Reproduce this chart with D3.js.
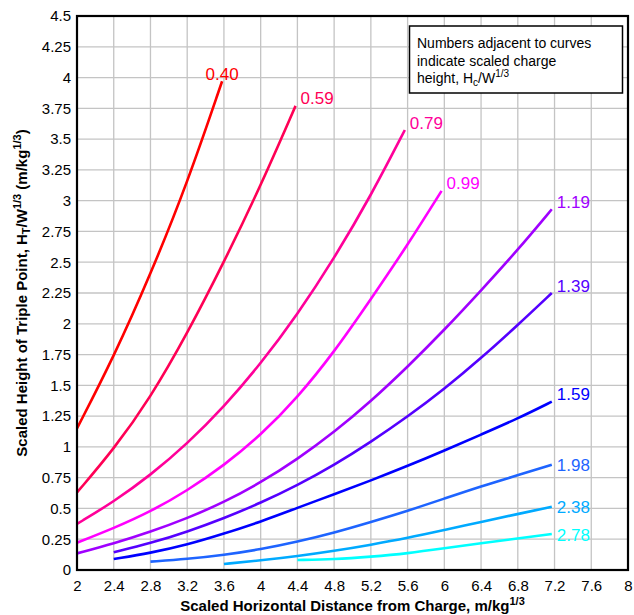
<!DOCTYPE html>
<html>
<head>
<meta charset="utf-8">
<script src="https://cdn.jsdelivr.net/npm/d3@7"></script>
<style>
  html, body { margin: 0; padding: 0; background: #fff; }
  svg { display: block; font-family: Arial, "Liberation Sans", sans-serif; }
</style>
</head>
<body>
<svg id="chart" width="634" height="615"></svg>
<script>
// ---------------- data ----------------
const chargeHeights = ["0.40", "0.59", "0.79", "0.99", "1.19", "1.39", "1.59", "1.98", "2.38", "2.78"];
const seriesColors = ["#FF0000", "#FF0055", "#FF0099", "#FF00FF", "#A000FF", "#5500FF", "#0000FF", "#1E64FF", "#00AAFF", "#00FFFF"];

const s040 = [[2,1.15],[2.4,1.73],[2.8,2.40],[3.2,3.14],[3.58,3.97]];
const s059 = [[2,0.63],[2.4,0.98],[2.8,1.40],[3.2,1.92],[3.6,2.50],[4.0,3.12],[4.38,3.77]];
const s079 = [[2,0.374],[2.4,0.555],[2.8,0.77],[3.2,1.025],[3.6,1.325],[4.0,1.675],[4.4,2.075],[4.8,2.53],[5.2,3.04],[5.57,3.574]];
const s099 = [[2,0.222],[2.4,0.339],[2.8,0.474],[3.2,0.644],[3.6,0.849],[4.0,1.094],[4.4,1.40],[4.8,1.77],[5.2,2.20],[5.6,2.64],[5.97,3.08]];
const s119 = [[2,0.135],[2.4,0.215],[2.8,0.31],[3.2,0.42],[3.6,0.55],[4.0,0.71],[4.4,0.90],[4.8,1.12],[5.2,1.37],[5.6,1.65],[6.0,1.95],[6.4,2.27],[6.8,2.60],[7.17,2.93]];
const s139 = [[2.4,0.144],[2.8,0.217],[3.2,0.311],[3.6,0.42],[4.0,0.545],[4.4,0.688],[4.8,0.852],[5.2,1.04],[5.6,1.245],[6.0,1.47],[6.4,1.72],[6.8,1.99],[7.17,2.25]];
const s159 = [[2.4,0.089],[2.8,0.138],[3.2,0.205],[3.6,0.295],[4.0,0.392],[4.4,0.505],[4.8,0.615],[5.2,0.727],[5.6,0.845],[6.0,0.97],[6.4,1.10],[6.8,1.23],[7.17,1.367]];
const s198 = [[2.8,0.068],[3.2,0.089],[3.6,0.122],[4.0,0.168],[4.4,0.23],[4.8,0.303],[5.2,0.39],[5.6,0.48],[6.0,0.58],[6.4,0.68],[6.8,0.77],[7.17,0.855]];
const s238 = [[3.6,0.049],[4.0,0.078],[4.4,0.113],[4.8,0.155],[5.2,0.205],[5.6,0.26],[6.0,0.325],[6.4,0.39],[6.8,0.455],[7.17,0.514]];
const s278 = [[4.4,0.081],[4.8,0.087],[5.2,0.108],[5.6,0.135],[6.0,0.176],[6.4,0.217],[6.8,0.257],[7.17,0.292]];
const allSeries = [s040, s059, s079, s099, s119, s139, s159, s198, s238, s278];

const xTicks = [2, 2.4, 2.8, 3.2, 3.6, 4, 4.4, 4.8, 5.2, 5.6, 6, 6.4, 6.8, 7.2, 7.6, 8];
const xTickLabels = ["2","2.4","2.8","3.2","3.6","4","4.4","4.8","5.2","5.6","6","6.4","6.8","7.2","7.6","8"];
const yTicks = [0,0.25,0.5,0.75,1,1.25,1.5,1.75,2,2.25,2.5,2.75,3,3.25,3.5,3.75,4,4.25,4.5];
const yTickLabels = ["0","0.25","0.5","0.75","1","1.25","1.5","1.75","2","2.25","2.5","2.75","3","3.25","3.5","3.75","4","4.25","4.5"];

// ---------------- layout ----------------
const svg = d3.select("#chart");
const L = 77, R = 628, T = 16, B = 570;
const x = d3.scaleLinear().domain([2, 8]).range([L, R]);
const y = d3.scaleLinear().domain([0, 4.5]).range([B, T]);

// grid
const grid = svg.append("g");
grid.selectAll("line.v").data(xTicks).join("line")
  .attr("x1", d => x(d)).attr("x2", d => x(d)).attr("y1", T).attr("y2", B)
  .attr("stroke", "#C4C4C4").attr("stroke-width", 1.3);
grid.selectAll("line.h").data(yTicks).join("line")
  .attr("x1", L).attr("x2", R).attr("y1", d => y(d)).attr("y2", d => y(d))
  .attr("stroke", "#C4C4C4").attr("stroke-width", 1.3);

// axes (labels only, no ticks)
const xAxis = d3.axisBottom(x).tickValues(xTicks).tickSize(0).tickPadding(10)
  .tickFormat((d, i) => xTickLabels[i]);
const gx = svg.append("g").attr("transform", `translate(0,${B})`).call(xAxis);
gx.select(".domain").remove();
gx.selectAll("text").attr("font-size", 15).attr("fill", "#000").attr("font-family", "Arial, 'Liberation Sans', sans-serif");

const yAxis = d3.axisLeft(y).tickValues(yTicks).tickSize(0).tickPadding(6)
  .tickFormat((d, i) => yTickLabels[i]);
const gy = svg.append("g").attr("transform", `translate(${L},0)`).call(yAxis);
gy.select(".domain").remove();
gy.selectAll("text").attr("font-size", 15).attr("fill", "#000").attr("font-family", "Arial, 'Liberation Sans', sans-serif");

// curves
const line = d3.line().x(d => x(d[0])).y(d => y(d[1])).curve(d3.curveBasis);
svg.append("g").selectAll("path").data(allSeries).join("path")
  .attr("d", line)
  .attr("fill", "none")
  .attr("stroke", (d, i) => seriesColors[i])
  .attr("stroke-width", 2.6)
  .attr("stroke-linecap", "butt");

// curve labels
const labelMode = ["above","right","right","right","right","right","right","mid","mid","mid"];
svg.append("g").selectAll("text").data(allSeries).join("text")
  .attr("x", (d, i) => {
    const e = d[d.length - 1];
    return labelMode[i] === "above" ? x(e[0]) : x(e[0]) + 5;
  })
  .attr("y", (d, i) => {
    const e = d[d.length - 1];
    if (labelMode[i] === "mid") return y(e[1]) + 6.5;
    return y(e[1]) - 1.5;
  })
  .attr("text-anchor", (d, i) => labelMode[i] === "above" ? "middle" : "start")
  .attr("font-size", 17)
  .attr("fill", (d, i) => seriesColors[i])
  .text((d, i) => chargeHeights[i]);

// plot border
svg.append("rect").attr("x", L).attr("y", T).attr("width", R - L).attr("height", B - T)
  .attr("fill", "none").attr("stroke", "#000").attr("stroke-width", 2.2);

// note box
const note = svg.append("g");
note.append("rect").attr("x", 409.5).attr("y", 26).attr("width", 213).attr("height", 67)
  .attr("fill", "#fff").attr("stroke", "#000").attr("stroke-width", 1.5);
const nt = note.append("text").attr("font-size", 14).attr("fill", "#000");
nt.append("tspan").attr("x", 417).attr("y", 48).text("Numbers adjacent to curves");
nt.append("tspan").attr("x", 417).attr("y", 65.5).text("indicate scaled charge");
const l3 = note.append("text").attr("font-size", 14).attr("fill", "#000").attr("x", 417).attr("y", 83);
l3.append("tspan").text("height, H");
l3.append("tspan").attr("font-size", 10).attr("dy", 3).text("c");
l3.append("tspan").attr("dy", -3).text("/W");
l3.append("tspan").attr("font-size", 10).attr("dy", -6).text("1/3");

// x title
const xt = svg.append("text").attr("x", (L + R) / 2).attr("y", 611).attr("text-anchor", "middle")
  .attr("font-size", 15).attr("font-weight", "bold").attr("fill", "#000");
xt.append("tspan").text("Scaled Horizontal Distance from Charge, m/kg");
xt.append("tspan").attr("font-size", 11).attr("dy", -6).text("1/3");

// y title
const yt = svg.append("text").attr("transform", `translate(27,${(T + B) / 2}) rotate(-90)`)
  .attr("text-anchor", "middle").attr("font-size", 15).attr("font-weight", "bold").attr("fill", "#000");
yt.append("tspan").text("Scaled Height of Triple Point, H");
yt.append("tspan").attr("font-size", 11).attr("dy", 3).text("T");
yt.append("tspan").attr("dy", -3).text("/W");
yt.append("tspan").attr("font-size", 11).attr("dy", -6).text("1/3");
yt.append("tspan").attr("dy", 6).text(" (m/kg");
yt.append("tspan").attr("font-size", 11).attr("dy", -6).text("1/3");
yt.append("tspan").attr("dy", 6).text(")");
</script>
</body>
</html>
